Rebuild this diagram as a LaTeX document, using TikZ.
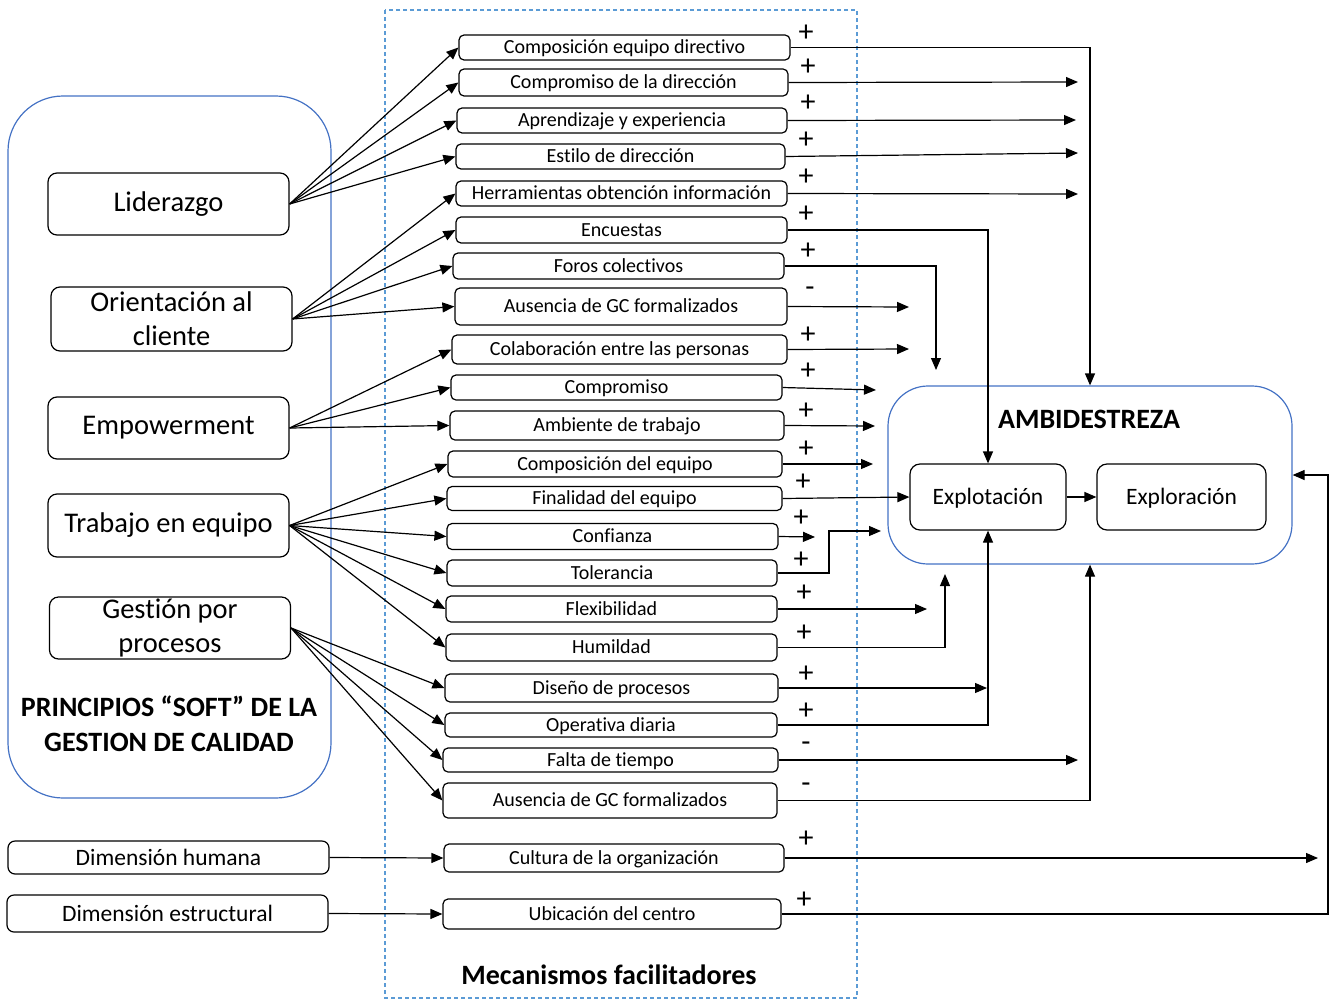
\documentclass[tikz,border=0pt]{standalone}
\usepackage{fontspec}
\setmainfont{Carlito}[Ligatures=NoCommon]
\usetikzlibrary{arrows.meta}
\definecolor{frameblue}{RGB}{68,114,196}
\definecolor{dashblue}{RGB}{91,155,213}
\tikzset{
  mech/.style={draw, rounded corners=5pt, line width=1.2pt, minimum width=331pt,
    minimum height=26pt, inner sep=0pt, text height=15pt, text depth=2.1pt,
    font=\fontsize{20}{21}\selectfont},
  princ/.style={draw, rounded corners=9pt, line width=1.2pt, minimum width=241pt,
    minimum height=62pt, inner sep=0pt, align=center, font=\fontsize{28.5}{34}\selectfont},
  dimen/.style={draw, rounded corners=7pt, line width=1.2pt, minimum width=321pt,
    minimum height=34pt, inner sep=0pt, text height=18pt, text depth=2.9pt,
    font=\fontsize{23.5}{25}\selectfont},
  phase/.style={draw, rounded corners=10pt, line width=1.2pt, minimum height=66pt,
    inner sep=0pt, text height=18pt, text depth=2.9pt, font=\fontsize{23.5}{25}\selectfont},
  group/.style={draw=frameblue, line width=1.2pt, inner sep=0pt},
  title/.style={font=\fontsize{28}{35}\selectfont\bfseries, align=center, inner sep=0pt},
  sign/.style={font=\fontsize{30}{30}\selectfont, inner sep=0pt},
  arr/.style={-{Triangle[length=12pt,width=10pt]}, line width=1.2pt}
}
\begin{document}
\begin{tikzpicture}[x=1pt,y=-1pt]
\useasboundingbox (0,0) rectangle (1335,1001);
% mechanisms frame
\draw[dashblue, dashed, line width=1.1pt, dash pattern=on 4pt off 3pt] (385,10) rectangle (857,998);
\node[title] (mectitle) at (609,975) {Mecanismos facilitadores};
% soft principles
\node[group, rounded corners=55pt, minimum width=323pt, minimum height=702pt] (soft) at (169.5,447) {};
\node[princ] (lid) at (168.5,204) {Liderazgo};
\node[princ, minimum height=64pt] (ori) at (171.5,319) {Orientación al\\cliente};
\node[princ] (emp) at (168.5,428) {Empowerment};
\node[princ, minimum height=63pt] (tra) at (168.5,525.5) {Trabajo en equipo};
\node[princ] (ges) at (170,628) {Gestión por\\procesos};
\node[title] (softtitle) at (169,724) {PRINCIPIOS “SOFT” DE LA\\GESTION DE CALIDAD};
\node[dimen, minimum height=33pt] (dhum) at (168.5,857.5) {Dimensión humana};
\node[dimen, minimum height=37pt] (dest) at (167.5,913.5) {Dimensión estructural};
% mechanisms
\node[mech, minimum height=25pt] (m1) at (624.5,47.5) {Composición equipo directivo};
\node[mech, minimum width=329pt, minimum height=27pt] (m2) at (623.5,82.5) {Compromiso de la dirección};
\node[mech, minimum width=330pt, minimum height=25pt] (m3) at (622,120.5) {Aprendizaje y experiencia};
\node[mech, minimum width=329pt, minimum height=25pt] (m4) at (620.5,156.5) {Estilo de dirección};
\node[mech, minimum height=25pt] (m5) at (621.5,193.5) {Herramientas obtención información};
\node[mech] (m6) at (621.5,230) {Encuestas};
\node[mech] (m7) at (618.5,266) {Foros colectivos};
\node[mech, minimum width=332pt, minimum height=37pt] (m8) at (621,306.5) {Ausencia de GC formalizados};
\node[mech, minimum width=335pt, minimum height=29pt] (m9) at (619.5,349.5) {Colaboración entre las personas};
\node[mech, minimum height=25pt] (m10) at (616.5,387.5) {Compromiso};
\node[mech, minimum width=334pt, minimum height=29pt] (m11) at (617,425.5) {Ambiente de trabajo};
\node[mech, minimum width=334pt] (m12) at (615,464) {Composición del equipo};
\node[mech, minimum width=335pt, minimum height=24pt] (m13) at (614.5,498.5) {Finalidad del equipo};
\node[mech] (m14) at (612.5,536.5) {Confianza};
\node[mech, minimum width=330pt] (m15) at (612,573) {Tolerancia};
\node[mech] (m16) at (611.5,609) {Flexibilidad};
\node[mech, minimum height=27pt] (m17) at (611.5,647.5) {Humildad};
\node[mech, minimum width=333pt, minimum height=28pt] (m18) at (611.5,688) {Diseño de procesos};
\node[mech, minimum width=332pt, minimum height=24pt] (m19) at (611,725) {Operativa diaria};
\node[mech, minimum width=335pt, minimum height=24pt] (m20) at (610.5,760) {Falta de tiempo};
\node[mech, minimum width=334pt, minimum height=35pt] (m21) at (610,800.5) {Ausencia de GC formalizados};
\node[mech, minimum width=340pt, minimum height=28pt] (m22) at (614,858) {Cultura de la organización};
\node[mech, minimum width=338pt, minimum height=30pt] (m23) at (612,914) {Ubicación del centro};
% ambidexterity
\node[group, rounded corners=40pt, minimum width=404pt, minimum height=178pt] (amb) at (1090,475) {};
\node[title] (ambtitle) at (1089,419) {AMBIDESTREZA};
\node[phase, minimum width=156pt] (xplo) at (988,497) {Explotación};
\node[phase, minimum width=169pt] (xplr) at (1181.5,497) {Exploración};
\draw[arr] (xplo) -- (xplr);
% principles to mechanisms
\draw[arr] (lid.east) -- (m1.west);
\draw[arr] (lid.east) -- (m2.west);
\draw[arr] (lid.east) -- (m3.west);
\draw[arr] (lid.east) -- (m4.west);
\draw[arr] (ori.east) -- (m5.west);
\draw[arr] (ori.east) -- (m6.west);
\draw[arr] (ori.east) -- (m7.west);
\draw[arr] (ori.east) -- (m8.west);
\draw[arr] (emp.east) -- (m9.west);
\draw[arr] (emp.east) -- (m10.west);
\draw[arr] (emp.east) -- (m11.west);
\draw[arr] (tra.east) -- (m12.west);
\draw[arr] (tra.east) -- (m13.west);
\draw[arr] (tra.east) -- (m14.west);
\draw[arr] (tra.east) -- (m15.west);
\draw[arr] (tra.east) -- (m16.west);
\draw[arr] (tra.east) -- (m17.west);
\draw[arr] (ges.east) -- (m18.west);
\draw[arr] (ges.east) -- (m19.west);
\draw[arr] (ges.east) -- (m20.west);
\draw[arr] (ges.east) -- (m21.west);
\draw[arr] (dhum.east) -- (m22.west);
\draw[arr] (dest.east) -- (m23.west);
% free ends and bends on the right
\coordinate (e2) at (1078,82);
\coordinate (e3) at (1076,120);
\coordinate (e4) at (1078,153);
\coordinate (e5) at (1078,194);
\coordinate (e7) at (936,370);
\coordinate (e8) at (909,307);
\coordinate (e9) at (909,349);
\coordinate (e10) at (876,390);
\coordinate (e11) at (875,426);
\coordinate (e12) at (873,464);
\coordinate (e14) at (815,537);
\coordinate (t15) at (829,531);
\coordinate (e15) at (881,531);
\coordinate (e16) at (927,609);
\coordinate (e17) at (945,574);
\coordinate (e18) at (987,688);
\coordinate (e20) at (1078,760);
\coordinate (e22) at (1318,858);
\coordinate (t23) at (1328,475);
% mechanisms to ambidexterity
\draw[arr] (m1.east) -| (amb.north);
\draw[arr] (m2.east) -- (e2);
\draw[arr] (m3.east) -- (e3);
\draw[arr] (m4.east) -- (e4);
\draw[arr] (m5.east) -- (e5);
\draw[arr] (m6.east) -| (xplo.north);
\draw[arr] (m7.east) -| (e7);
\draw[arr] (m8.east) -- (e8);
\draw[arr] (m9.east) -- (e9);
\draw[arr] (m10.east) -- (e10);
\draw[arr] (m11.east) -- (e11);
\draw[arr] (m12.east) -- (e12);
\draw[arr] (m13.east) -- (xplo.west);
\draw[arr] (m14.east) -- (e14);
\draw[arr] (m15.east) -| (t15) -- (e15);
\draw[arr] (m16.east) -- (e16);
\draw[arr] (m17.east) -| (e17);
\draw[arr] (m18.east) -- (e18);
\draw[arr] (m19.east) -| (xplo.south);
\draw[arr] (m20.east) -- (e20);
\draw[arr] (m21.east) -| (amb.south);
\draw[arr] (m22.east) -- (e22);
\draw[arr] (m23.east) -| (t23) -- (amb.east);
% signs
\node[sign] (s1) at (806,33) {+};
\node[sign] (s2) at (808,67) {+};
\node[sign] (s3) at (808,103) {+};
\node[sign] (s4) at (806,140) {+};
\node[sign] (s5) at (806,177) {+};
\node[sign] (s6) at (806,214) {+};
\node[sign] (s7) at (808,251) {+};
\node[sign] (s8) at (810,292) {-};
\node[sign] (s9) at (808,335) {+};
\node[sign] (s10) at (808,371) {+};
\node[sign] (s11) at (806,411) {+};
\node[sign] (s12) at (806,449) {+};
\node[sign] (s13) at (803,482) {+};
\node[sign] (s14) at (801,518) {+};
\node[sign] (s15) at (801,560) {+};
\node[sign] (s16) at (804,593) {+};
\node[sign] (s17) at (804,633) {+};
\node[sign] (s18) at (806,674) {+};
\node[sign] (s19) at (806,711) {+};
\node[sign] (s20) at (806,747) {-};
\node[sign] (s21) at (806,788) {-};
\node[sign] (s22) at (806,839) {+};
\node[sign] (s23) at (804,900) {+};
\end{tikzpicture}
\end{document}
